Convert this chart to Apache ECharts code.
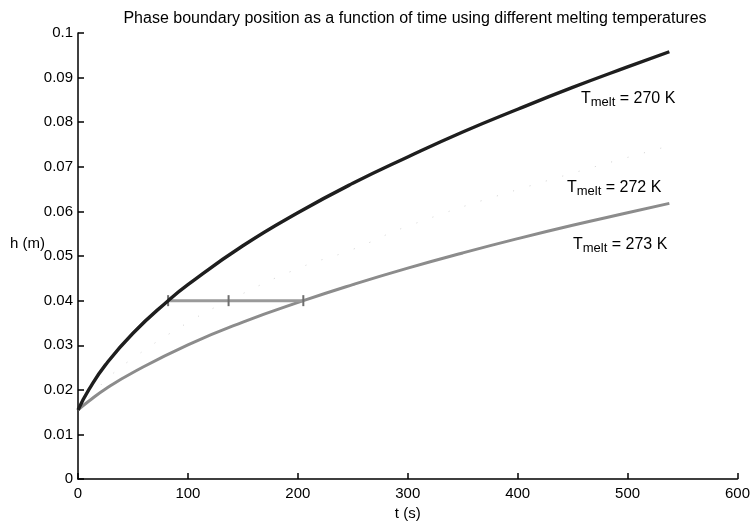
<!DOCTYPE html>
<html>
<head>
<meta charset="utf-8">
<script src="https://cdn.jsdelivr.net/npm/echarts@6/dist/echarts.min.js"></script>
<style>
  html, body { margin: 0; padding: 0; background: #fff; }
  #main { width: 753px; height: 526px; }
</style>
</head>
<body>
<div id="main"></div>
<script>
// values
const xTicks = [0, 100, 200, 300, 400, 500, 600];
const yTicks = [0, 0.01, 0.02, 0.03, 0.04, 0.05, 0.06, 0.07, 0.08, 0.09, 0.1];

// T_melt = 270 K (dark curve)
const t270 = [0, 10, 25, 50, 82, 100, 150, 200, 250, 300, 350, 400, 450, 500, 538];
const h270 = [0.0155, 0.0201, 0.0256, 0.0327, 0.0400, 0.0436, 0.0523, 0.0597, 0.0663, 0.0722, 0.0778, 0.0829, 0.0878, 0.0924, 0.0958];

// T_melt = 272 K (very faint dotted curve)
const t272 = [0, 25, 50, 100, 137, 200, 250, 300, 400, 538];
const h272 = [0.0155, 0.0221, 0.0271, 0.0351, 0.0400, 0.0472, 0.0515, 0.0567, 0.0649, 0.0747];

// T_melt = 273 K (grey curve)
const t273 = [0, 10, 25, 50, 100, 150, 205, 250, 300, 350, 400, 450, 500, 538];
const h273 = [0.0155, 0.0175, 0.0202, 0.0239, 0.0301, 0.0352, 0.0400, 0.0436, 0.0473, 0.0507, 0.0539, 0.0569, 0.0597, 0.0618];

// horizontal marker at h = 0.04
const tMark = [82, 137, 205];
const hMark = [0.04, 0.04, 0.04];

const FONT = 'Liberation Sans, Arial, Helvetica, sans-serif';

const zip = (xs, ys) => xs.map((x, i) => [x, ys[i]]);

const chart = echarts.init(document.getElementById('main'), null, { renderer: 'canvas' });

function meltLabel(left, top, val) {
    return {
        type: 'text',
        left: left,
        top: top,
        style: {
            text: '{t|T}{s|melt}{t| = ' + val + ' K}',
            rich: {
                t: { fontSize: 16, fontFamily: FONT, fill: '#000', verticalAlign: 'top', lineHeight: 18 },
                s: { fontSize: 13, fontFamily: FONT, fill: '#000', verticalAlign: 'bottom', lineHeight: 15, padding: [8, 0, 0, 0] }
            }
        }
    };
}

chart.setOption({
    animation: false,
    backgroundColor: '#fff',
    title: {
        text: 'Phase boundary position as a function of time using different melting temperatures',
        left: 410,
        textAlign: 'center',
        top: 6,
        textStyle: { fontSize: 16, fontWeight: 'normal', color: '#000', fontFamily: FONT }
    },
    grid: { left: 78, right: 15, top: 33, bottom: 46 },
    xAxis: {
        type: 'value',
        min: xTicks[0],
        max: xTicks[xTicks.length - 1],
        interval: 100,
        name: 't (s)',
        nameLocation: 'middle',
        nameGap: 26,
        nameTextStyle: { fontSize: 15, color: '#000', fontFamily: FONT },
        axisLine: { lineStyle: { color: '#000', width: 1.5 } },
        axisTick: { inside: true, length: 6, lineStyle: { color: '#000', width: 1.5 } },
        axisLabel: { fontSize: 15, color: '#000', fontFamily: FONT, margin: 7 },
        splitLine: { show: false }
    },
    yAxis: {
        type: 'value',
        min: yTicks[0],
        max: yTicks[yTicks.length - 1],
        interval: 0.01,
        axisLine: { show: true, lineStyle: { color: '#000', width: 1.5 } },
        axisTick: { show: true, inside: true, length: 6, lineStyle: { color: '#000', width: 1.5 } },
        axisLabel: { fontSize: 15, color: '#000', fontFamily: FONT, margin: 5 },
        splitLine: { show: false }
    },
    graphic: [
        {
            type: 'text', left: 10, top: 236,
            style: { text: 'h (m)', fontSize: 15, fontFamily: FONT, fill: '#000' }
        },
        meltLabel(581, 88, 270),
        meltLabel(567, 177, 272),
        meltLabel(573, 234, 273)
    ],
    series: [
        {
            name: '272 K',
            type: 'line',
            data: zip(t272, h272),
            showSymbol: false,
            smooth: true,
            lineStyle: { color: '#d2d2d2', width: 1, type: [1, 16] },
            z: 1
        },
        {
            name: '273 K',
            type: 'line',
            data: zip(t273, h273),
            showSymbol: false,
            smooth: true,
            lineStyle: { color: '#8c8c8c', width: 3 },
            z: 2
        },
        {
            name: 'marker',
            type: 'line',
            data: zip(tMark, hMark),
            symbol: 'rect',
            symbolSize: [2, 11],
            itemStyle: { color: '#6e6e6e' },
            lineStyle: { color: '#9a9a9a', width: 3 },
            z: 3
        },
        {
            name: '270 K',
            type: 'line',
            data: zip(t270, h270),
            showSymbol: false,
            smooth: true,
            lineStyle: { color: '#1e1e1e', width: 3.4 },
            z: 4
        }
    ]
});
</script>
</body>
</html>
